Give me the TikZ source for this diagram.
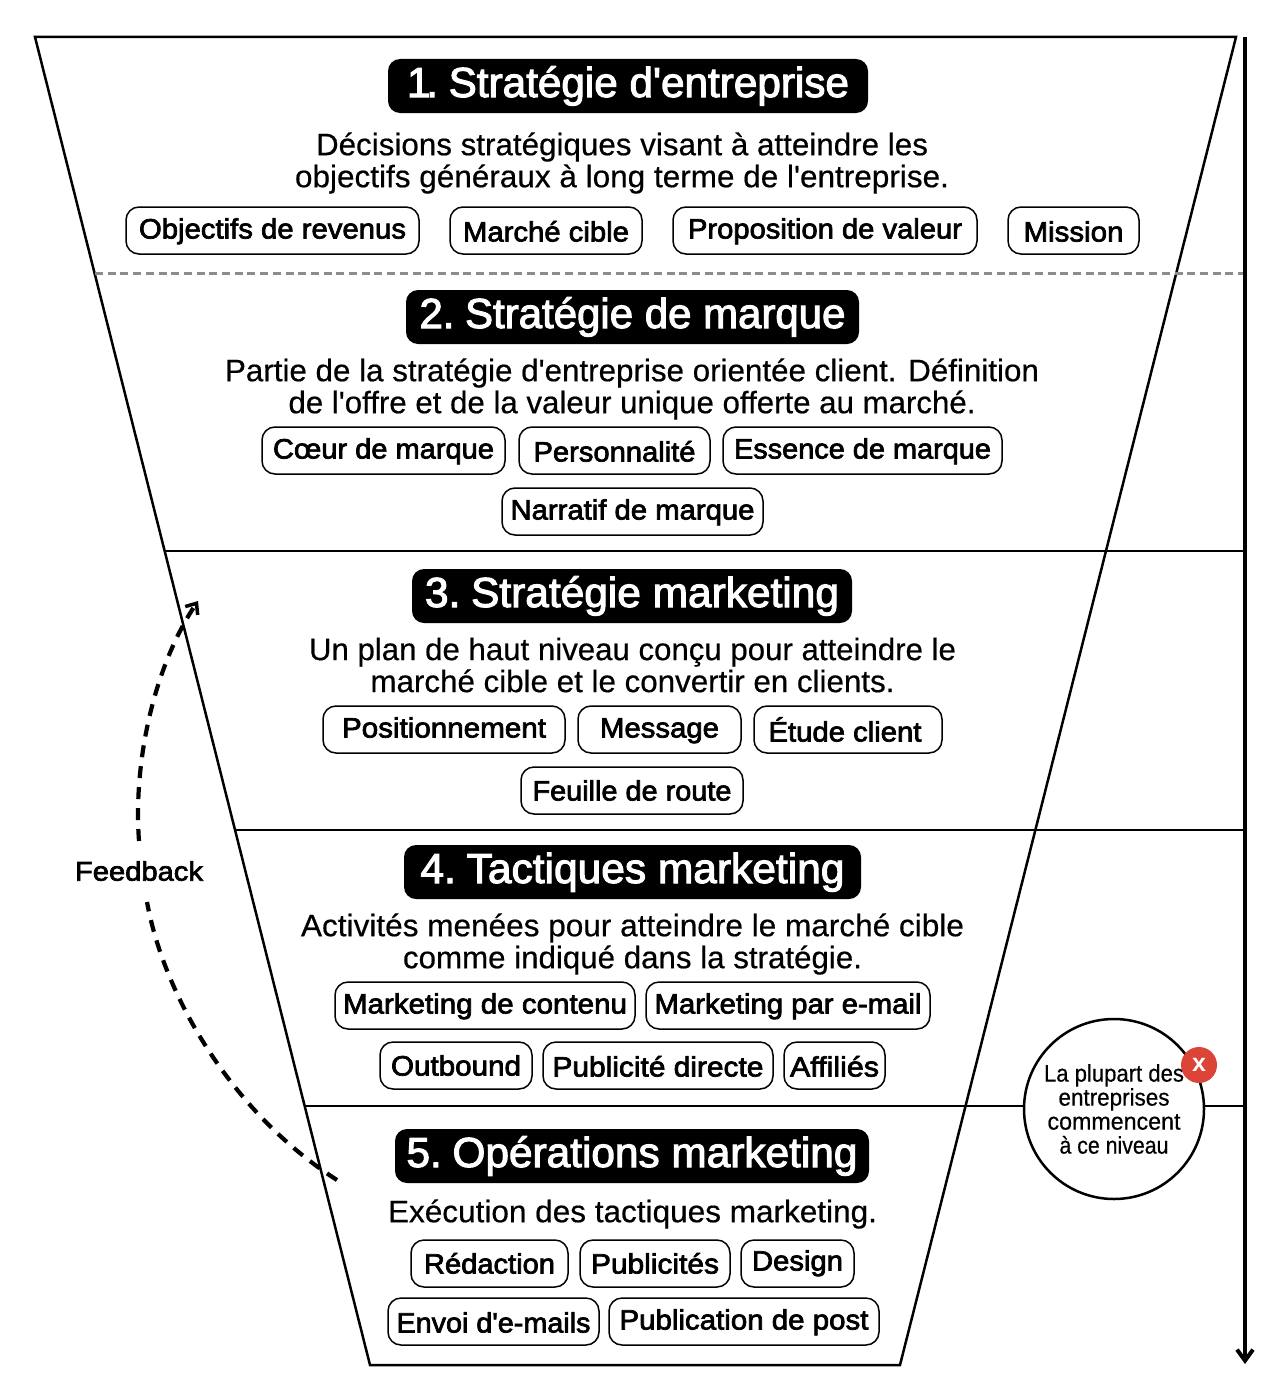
\documentclass[tikz,border=0pt]{standalone}
\usepackage{fontspec}
\usepackage{graphicx}
\usetikzlibrary{arrows.meta,calc}
\setmainfont{Liberation Sans}
\newfontfamily\regfont[FakeBold=0.5]{Liberation Sans}
\newfontfamily\medfont[FakeBold=2.5]{Liberation Sans}
\newfontfamily\boldfont{Liberation Sans Bold}
\newcommand{\fw}[2]{\resizebox{#1pt}{\height}{#2}}
\newcommand{\nm}[1]{{\spaceskip=0.16em\relax #1 }}
\definecolor{badge}{HTML}{DD4438}
\definecolor{rulegray}{HTML}{8C8C8C}
\tikzset{
  chipbox/.style={draw=black,line width=1.5pt,rounded corners=13pt,inner sep=0pt,minimum height=47pt,
    text height=20pt,text depth=0pt,font=\fontsize{28}{32}\selectfont\medfont},
  titlebox/.style={fill=black,text=white,rounded corners=12pt,inner sep=0pt,minimum height=54pt,
    text height=22pt,text depth=0pt,font=\fontsize{42}{44}\selectfont\medfont},
  bodytext/.style={inner sep=0pt,align=center,font=\fontsize{31}{32}\selectfont\regfont},
  edge/.style={line width=2.5pt,draw=black},
  graydash/.style={line width=3pt,draw=rulegray,dash pattern=on 8pt off 4.7pt},
  feedbackline/.style={line width=4.2pt,draw=black,dash pattern=on 12pt off 9pt},
  feedbacktip/.style={-{Straight Barb[length=9pt,width=15pt,line width=3.5pt]}},
  axisline/.style={line width=4pt,draw=black,-{Straight Barb[length=11pt,width=16pt,line width=4pt]}},
}
% name, x1, x2, y centre, text width, text y offset, text
\newcommand{\chip}[7]{\node[chipbox,minimum width={(#3-#2)*1pt}] (#1) at ({(#2+#3)/2},#4) {\raisebox{-#6pt}{\fw{#5}{#7}}};}
% name, x1, x2, y centre, text width, text
\newcommand{\ttl}[6]{\node[titlebox,minimum width={(#3-#2)*1pt}] (#1) at ({(#2+#3)/2},#4) {\fw{#5}{#6}};}
\begin{document}
\begin{tikzpicture}[x=1pt,y=-1pt]
\useasboundingbox (0,0) rectangle (1280,1397);
\coordinate (tl) at (35,37);
\coordinate (tr) at (1236,37);
\coordinate (br) at (900,1365);
\coordinate (bl) at (370,1365);
\coordinate (axtop) at (1245,37);
\coordinate (axbot) at (1245,1364);
\coordinate (a1) at (95,273);   \coordinate (b1) at (1245,273);
\coordinate (a2) at (165,551);  \coordinate (b2) at (1245,551);
\coordinate (a3) at (235,830);  \coordinate (b3) at (1245,830);
\coordinate (a4) at (304,1106); \coordinate (b4) at (1245,1106);
\coordinate (fbstart) at (337,1180);
\coordinate (fblow) at (147,902);
\coordinate (fbhigh) at (139,841);
\coordinate (fbend) at (198,601);

\draw[edge,line join=miter] (tl) -- (tr) -- (br) -- (bl) -- cycle;
\draw[graydash] (a1) -- (b1);
\draw[edge] (a2) -- (b2);
\draw[edge] (a3) -- (b3);
\draw[edge] (a4) -- (b4);
\draw[axisline] (axtop) -- (axbot);

\draw[feedbackline] (fbstart) .. controls (235,1115) and (165,1000) .. (fblow);
\draw[feedbackline,feedbacktip] (fbhigh) .. controls (133,760) and (155,665) .. (fbend);
\node[inner sep=2pt,font=\fontsize{27}{30}\selectfont\medfont] (fb) at (139,871) {\fw{128}{Feedback}};

% Level 1
\ttl{t1}{388}{868}{86}{442}{\nm{1\kern-0.1em.}Stratégie d'entreprise}
\node[bodytext] (d1) at (622,163) {\fw{612}{Décisions stratégiques visant à atteindre les}\\\fw{654}{objectifs généraux à long terme de l'entreprise.}};
\chip{c11}{126}{419}{230.5}{267}{-2}{Objectifs de revenus}
\chip{c12}{450}{642}{230.5}{166}{1}{Marché cible}
\chip{c13}{673}{977}{230.5}{274}{-2}{Proposition de valeur}
\chip{c14}{1008}{1139}{230.5}{100}{1}{Mission}
% Level 2
\ttl{t2}{406}{859}{317}{426}{\nm{2.}Stratégie de marque}
\node[bodytext] (d2) at (632,389) {\fw{814}{Partie de la stratégie d'entreprise orientée client. Définition}\\\fw{687}{de l'offre et de la valeur unique offerte au marché.}};
\chip{c21}{262}{505}{450.5}{221}{-2}{Cœur de marque}
\chip{c22}{519}{710}{450.5}{162}{1}{Personnalité}
\chip{c23}{723}{1002}{450.5}{257}{-2}{Essence de marque}
\chip{c24}{502}{763}{511.5}{244}{-2}{Narratif de marque}
% Level 3
\ttl{t3}{412}{852}{596}{414}{\nm{3.}Stratégie marketing}
\node[bodytext] (d3) at (632.5,665) {\fw{647}{Un plan de haut niveau conçu pour atteindre le}\\\fw{524}{marché cible et le convertir en clients.}};
\chip{c31}{323}{565}{729.5}{204}{-2}{Positionnement}
\chip{c32}{578}{741}{729.5}{119}{-2}{Message}
\node[chipbox,minimum width=188pt] (c33) at (848,729.5) {\raisebox{-2pt}{\fw{153}{Étude client}}\kern6pt};
\chip{c34}{521}{743}{790.5}{199}{0}{Feuille de route}
% Level 4
\ttl{t4}{404}{861}{872}{424}{\nm{4.}Tactiques marketing}
\node[bodytext] (d4) at (632.5,944) {\fw{663}{Activités menées pour atteindre le marché cible}\\\fw{459}{comme indiqué dans la stratégie.}};
\chip{c41}{335}{635}{1005.5}{284}{-2}{Marketing de contenu}
\chip{c42}{646}{930}{1005.5}{267}{-2}{Marketing par e-mail}
\chip{c43}{380}{532}{1065.5}{130}{0}{Outbound}
\chip{c44}{543}{773}{1065.5}{211}{1}{Publicité directe}
\chip{c45}{784}{885}{1065.5}{89}{1}{Affiliés}
% Level 5
\ttl{t5}{395}{869}{1156}{451}{\nm{5.}Opérations marketing}
\node[bodytext] (d5) at (632.5,1214) {\fw{489}{Exécution des tactiques marketing.}};
\chip{c51}{411}{568}{1263.5}{131}{0}{Rédaction}
\chip{c52}{580}{730}{1263.5}{128}{0}{Publicités}
\chip{c53}{741}{854}{1263.5}{91}{-3}{Design}
\chip{c54}{388}{599}{1321.5}{194}{1}{Envoi d'e-mails}
\chip{c55}{609}{879}{1321.5}{249}{-2}{Publication de post}

% Callout
\node[circle,draw=black,fill=white,line width=2.5pt,minimum size=180pt,inner sep=0pt] (callout) at (1114,1109) {};
\node[inner sep=0pt,align=center,font=\fontsize{24}{24}\selectfont\regfont] (callouttext) at (1114,1109)
  {\fw{140}{La plupart des}\\\fw{111}{entreprises}\\\fw{133}{commencent}\\\fw{109}{à ce niveau}};
\node[circle,fill=badge,minimum size=36pt,inner sep=0pt,text=white,font=\fontsize{25}{25}\selectfont\boldfont] (badge) at (1199,1065) {x};
\end{tikzpicture}
\end{document}
